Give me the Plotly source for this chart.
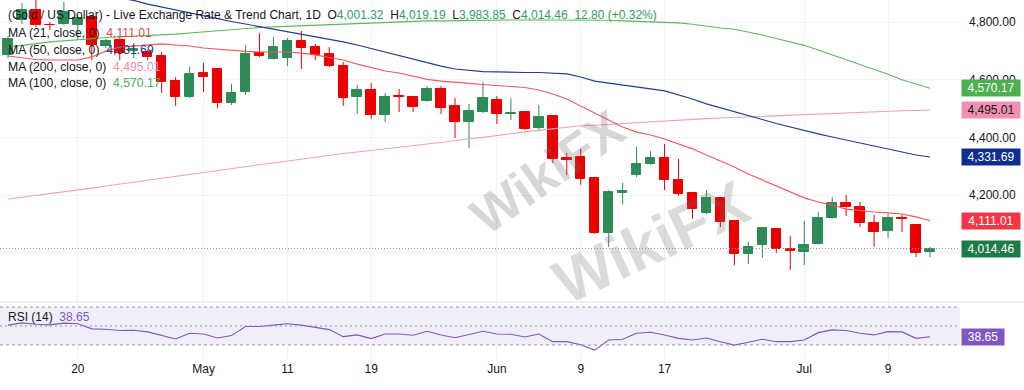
import plotly.graph_objects as go

# ---------------- data ----------------
bar_index = list(range(67))
open_ = [4686, 4807, 4842, 4791, 4793, 4790, 4817, 4717, 4738, 4699,
         4696, 4682, 4595, 4540, 4623, 4637, 4519, 4557, 4692, 4672,
         4675, 4734, 4713, 4689, 4647, 4540, 4564, 4477, 4543, 4540,
         4526, 4568, 4509, 4453, 4488, 4530, 4481, 4488, 4432, 4474,
         4328, 4332, 4259, 4068, 4207, 4269, 4308, 4328, 4252, 4207,
         4138, 4190, 4110, 3995, 4027, 4082, 4013, 4002, 4030, 4120,
         4172, 4158, 4103, 4075, 4120, 4096, 4001.32]
high_ = [4751, 4866, 4876, 4800, 4870, 4824, 4824, 4741, 4751, 4727,
         4703, 4696, 4609, 4644, 4658, 4640, 4585, 4720, 4762, 4748,
         4745, 4769, 4724, 4713, 4661, 4582, 4588, 4554, 4568, 4543,
         4578, 4578, 4536, 4516, 4592, 4543, 4536, 4490, 4512, 4477,
         4346, 4360, 4262, 4217, 4242, 4367, 4353, 4377, 4325, 4210,
         4217, 4192, 4112, 4037, 4089, 4085, 4058, 4110, 4141, 4193,
         4200, 4176, 4131, 4134, 4131, 4098, 4019.19]
low_ = [4675, 4793, 4783, 4772, 4790, 4738, 4668, 4710, 4668, 4675,
        4668, 4554, 4509, 4536, 4557, 4502, 4512, 4547, 4679, 4670,
        4647, 4637, 4668, 4644, 4509, 4481, 4464, 4453, 4488, 4488,
        4524, 4481, 4398, 4363, 4484, 4446, 4460, 4425, 4422, 4311,
        4269, 4235, 4065, 4020, 4169, 4262, 4305, 4217, 4197, 4117,
        4134, 4089, 3957, 3961, 3982, 3999, 3940, 3957, 4028, 4118,
        4127, 4089, 4020, 4051, 4072, 3985, 3983.85]
close_ = [4741, 4842, 4790, 4788, 4835, 4814, 4720, 4734, 4692, 4706,
          4679, 4592, 4540, 4620, 4609, 4519, 4554, 4689, 4682, 4713,
          4734, 4710, 4686, 4647, 4536, 4564, 4477, 4540, 4540, 4505,
          4568, 4502, 4453, 4491, 4536, 4481, 4485, 4429, 4471, 4325,
          4321, 4256, 4068, 4210, 4214, 4308, 4328, 4252, 4203, 4151,
          4190, 4106, 3995, 4020, 4086, 4013, 4006, 4027, 4120, 4172,
          4158, 4103, 4072, 4120, 4117, 3999, 4014.46]
change_abs = 12.80
change_pct = 0.32

ma21 = [4682, 4675, 4670, 4668, 4668, 4668, 4679, 4699, 4713, 4717,
        4720, 4724, 4720, 4717, 4710, 4706, 4701, 4698, 4696, 4696,
        4696, 4692, 4686, 4677, 4668, 4654, 4642, 4630, 4623, 4613,
        4601, 4595, 4590, 4587, 4583, 4580, 4576, 4573, 4564, 4550,
        4533, 4509, 4484, 4460, 4436, 4418, 4408, 4394, 4377, 4360,
        4339, 4318, 4297, 4273, 4252, 4231, 4210, 4190, 4176, 4165,
        4151, 4145, 4141, 4138, 4134, 4124, 4111.01]
ma50 = [4960, 4949, 4939, 4930, 4921, 4911, 4902, 4894, 4883, 4875,
        4862, 4852, 4842, 4831, 4821, 4810, 4802, 4793, 4784, 4776,
        4767, 4758, 4750, 4741, 4731, 4720, 4708, 4696, 4684, 4672,
        4658, 4647, 4637, 4632, 4628, 4627, 4625, 4625, 4625, 4623,
        4620, 4609, 4595, 4588, 4582, 4575, 4568, 4561, 4547, 4533,
        4516, 4503, 4490, 4476, 4462, 4448, 4436, 4422, 4412, 4401,
        4391, 4380, 4370, 4360, 4349, 4339, 4331.69]
ma200 = [4186, 4192, 4199, 4205, 4211, 4218, 4224, 4231, 4237, 4244,
         4251, 4258, 4265, 4271, 4278, 4285, 4292, 4299, 4305, 4311,
         4318, 4325, 4331, 4338, 4344, 4349, 4355, 4360, 4365, 4371,
         4377, 4382, 4389, 4395, 4400, 4407, 4414, 4419, 4424, 4429,
         4434, 4440, 4442, 4445, 4448, 4452, 4455, 4457, 4460, 4462,
         4465, 4467, 4469, 4472, 4474, 4476, 4478, 4480, 4482, 4484,
         4486, 4488, 4489, 4490, 4492, 4493, 4495.01]
ma100 = [4713, 4718, 4725, 4731, 4734, 4738, 4742, 4746, 4748, 4750,
         4752, 4755, 4758, 4762, 4766, 4770, 4774, 4778, 4781, 4783,
         4785, 4787, 4789, 4791, 4793, 4795, 4797, 4799, 4801, 4802,
         4804, 4804, 4805, 4805, 4806, 4806, 4807, 4807, 4807, 4807,
         4807, 4807, 4807, 4806, 4804, 4802, 4800, 4799, 4797, 4792,
         4785, 4779, 4775, 4766, 4755, 4743, 4732, 4719, 4703, 4686,
         4670, 4654, 4637, 4619, 4600, 4585, 4570.17]
rsi14 = [50.9, 53.3, 51.9, 51.2, 53.0, 52.3, 47.0, 46.6, 45.2, 45.5,
         43.8, 40.2, 36.3, 42.3, 41.6, 37.4, 39.9, 49.4, 49.4, 50.9,
         52.3, 50.9, 48.7, 46.2, 38.8, 40.6, 36.7, 41.6, 41.6, 40.2,
         44.5, 40.6, 37.7, 41.3, 44.5, 41.6, 41.3, 38.4, 41.6, 33.5,
         33.5, 30.3, 24.6, 35.2, 36.0, 42.3, 43.4, 40.6, 37.0, 35.2,
         37.4, 33.5, 29.9, 32.8, 36.0, 33.5, 33.5, 35.2, 43.0, 45.9,
         45.2, 42.3, 40.6, 44.1, 43.8, 37.0, 38.65]

tick_index = [5, 14, 20, 26, 35, 41, 47, 57, 63]
tick_text = ["20", "May", "11", "19", "Jun", "9", "17", "Jul", "9"]
price_ticks = [4000, 4200, 4400, 4600, 4800]
price_tick_text = ["", "4,200.00", "4,400.00", "4,600.00", "4,800.00"]
rsi_levels = [70, 50, 30]

# ---------------- styling ----------------
FONT = "Liberation Sans, Arial, sans-serif"
UP = "#2e8b57"
DOWN = "#ec0000"
C21, C50, C200, C100 = "#ef5a60", "#1f3d8f", "#f2a0b6", "#5cb85c"
RSI_C = "#7e57c2"
TXT = "#131722"
H_PLOT = 360.0

fig = go.Figure()

up_ids = [i for i in bar_index if close_[i] >= open_[i]]
dn_ids = [i for i in bar_index if close_[i] < open_[i]]

for ids, col in ((up_ids, UP), (dn_ids, DOWN)):
    wx, wy = [], []
    for i in ids:
        wx += [bar_index[i], bar_index[i], None]
        wy += [low_[i], high_[i], None]
    fig.add_trace(go.Scatter(x=wx, y=wy, mode="lines", line=dict(color=col, width=1),
                             hoverinfo="skip", xaxis="x", yaxis="y"))
    fig.add_trace(go.Bar(x=[bar_index[i] for i in ids],
                         base=[min(open_[i], close_[i]) for i in ids],
                         y=[abs(close_[i] - open_[i]) for i in ids],
                         width=0.68, marker=dict(color=col, line=dict(color=col, width=1)),
                         xaxis="x", yaxis="y"))

for vals, col in ((ma200, C200), (ma100, C100), (ma50, C50), (ma21, C21)):
    fig.add_trace(go.Scatter(x=bar_index, y=vals, mode="lines",
                             line=dict(color=col, width=1.1), xaxis="x", yaxis="y"))

fig.add_trace(go.Scatter(x=bar_index, y=rsi14, mode="lines",
                         line=dict(color=RSI_C, width=1.1), xaxis="x", yaxis="y2"))

main_bottom = 58 / H_PLOT

shapes = [
    dict(type="rect", xref="paper", yref="y2", x0=0, x1=1, y0=30, y1=70,
         fillcolor="rgba(126,87,194,0.10)", line=dict(width=0), layer="below"),
    dict(type="line", xref="paper", yref="paper", x0=0, x1=1024 / 960, y0=main_bottom, y1=main_bottom,
         line=dict(color="#e0e3eb", width=1)),
    dict(type="line", xref="paper", yref="y", x0=0, x1=1, y0=close_[-1], y1=close_[-1],
         line=dict(color="#9598a1", width=1, dash="1px,2px")),
]
for lv in rsi_levels:
    shapes.append(dict(type="line", xref="paper", yref="y2", x0=0, x1=1, y0=lv, y1=lv,
                       line=dict(color="#9598a1", width=1,
                                 dash="2px,3px" if lv == 50 else "3px,3px")))

def fmt(v):
    return f"{v:,.2f}"

annotations = []

def px_to_paper(py):
    return 1 - py / H_PLOT

# header line
g = "#2f9e5f"
header = ("(Gold / US Dollar) - Live Exchange Rate &amp; Trend Chart, 1D&nbsp; "
          f"O<span style='color:{g}'>{fmt(open_[-1])}</span>&nbsp; "
          f"H<span style='color:{g}'>{fmt(high_[-1])}</span>&nbsp; "
          f"L<span style='color:{g}'>{fmt(low_[-1])}</span>&nbsp; "
          f"C<span style='color:{g}'>{fmt(close_[-1])}</span>&nbsp; "
          f"<span style='color:{g}'>{change_abs:.2f} (+{change_pct:.2f}%)</span>")
annotations.append(dict(text=header, xref="paper", yref="paper", x=0, y=px_to_paper(15),
                        xanchor="left", yanchor="middle", xshift=6, showarrow=False,
                        font=dict(family=FONT, size=12, color=TXT)))

legend_rows = [("MA (21, close, 0)", ma21[-1], "#e5484d", 32.5),
               ("MA (50, close, 0)", ma50[-1], "#1e3a8a", 50),
               ("MA (200, close, 0)", ma200[-1], "#f08fab", 66.5),
               ("MA (100, close, 0)", ma100[-1], "#4caf50", 83)]
for name, val, col, py in legend_rows:
    annotations.append(dict(text=f"{name}&nbsp;&nbsp;<span style='color:{col}'>{fmt(val)}</span>",
                            xref="paper", yref="paper", x=0, y=px_to_paper(py),
                            xanchor="left", yanchor="middle", xshift=6, showarrow=False,
                            font=dict(family=FONT, size=12.2, color=TXT)))

annotations.append(dict(text=f"RSI (14)&nbsp;&nbsp;<span style='color:{RSI_C}'>{rsi14[-1]:.2f}</span>",
                        xref="paper", yref="paper", x=0, y=px_to_paper(317),
                        xanchor="left", yanchor="middle", xshift=6, showarrow=False,
                        font=dict(family=FONT, size=12, color=TXT)))

# watermark
annotations.append(dict(text="<b>WikiFX</b>", xref="x", yref="y", x=38.6, y=4280,
                        textangle=-35, showarrow=False,
                        font=dict(family=FONT, size=52, color="rgba(110,110,110,0.28)")))
annotations.append(dict(text="<b>WikiFX</b>", xref="x", yref="y", x=46.0, y=4035,
                        textangle=-25, showarrow=False,
                        font=dict(family=FONT, size=62, color="rgba(110,110,110,0.25)")))

# right-side value labels
right_labels = [(ma100[-1], "#4caf50", "white"),
                (ma200[-1], "#f48fb1", TXT),
                (ma50[-1], "#0d2e8f", "white"),
                (ma21[-1], "#f23645", "white"),
                (close_[-1], "#1e7b47", "white")]
for val, bg, fc in right_labels:
    annotations.append(dict(text=fmt(val), xref="paper", yref="y", x=1, y=val,
                            xanchor="left", yanchor="middle", xshift=1, showarrow=False,
                            bgcolor=bg, borderpad=2, width=54, height=12, align="center",
                            font=dict(family=FONT, size=12, color=fc)))
annotations.append(dict(text=f"{rsi14[-1]:.2f}", xref="paper", yref="y2", x=1, y=rsi14[-1],
                        xanchor="left", yanchor="middle", xshift=1, showarrow=False,
                        bgcolor=RSI_C, borderpad=2, width=38, height=12, align="center",
                        font=dict(family=FONT, size=12, color="white")))

fig.update_layout(
    width=1024, height=390,
    margin=dict(l=0, r=64, t=0, b=30),
    paper_bgcolor="white", plot_bgcolor="white",
    showlegend=False, bargap=0,
    xaxis=dict(range=[-0.573, 68.15], tickvals=tick_index, ticktext=tick_text,
               showgrid=True, gridcolor="#f0f3fa", zeroline=False, ticks="",
               showline=False, anchor="y2",
               tickfont=dict(family=FONT, size=12, color=TXT)),
    yaxis=dict(domain=[main_bottom, 1], range=[3828.9, 4876.3], side="right",
               tickvals=price_ticks, ticktext=price_tick_text, showgrid=True, gridcolor="#f0f3fa",
               zeroline=False, ticks="", ticklabelstandoff=8, anchor="x",
               tickfont=dict(family=FONT, size=12, color=TXT)),
    yaxis2=dict(domain=[0, main_bottom], range=[14.2, 75.26], showticklabels=False,
                showgrid=False, zeroline=False, anchor="x"),
    shapes=shapes,
    annotations=annotations,
    font=dict(family=FONT),
)

fig.write_html("out.html")
